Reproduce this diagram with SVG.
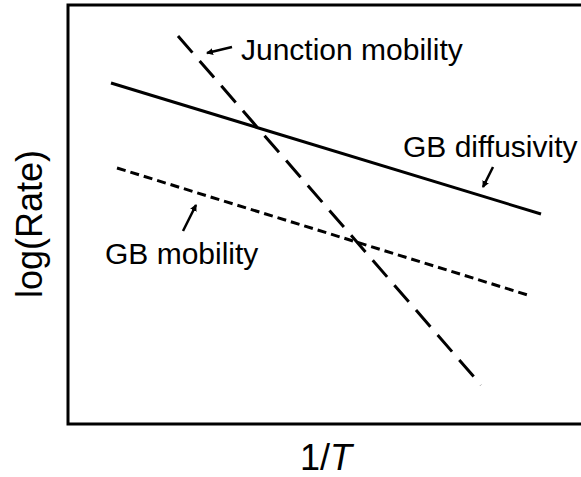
<svg xmlns="http://www.w3.org/2000/svg" width="581" height="477" viewBox="0 0 581 477">
<defs>
<marker id="ah" markerWidth="8" markerHeight="8" refX="6" refY="4" orient="auto" markerUnits="userSpaceOnUse">
<path d="M0,0.5 L7,4 L0,7.5 Z" fill="#000"/>
</marker>
</defs>
<style>
.lbl{font-family:"Liberation Sans",Arial,sans-serif;font-size:30px;fill:#000}
.ax{font-family:"Liberation Sans",Arial,sans-serif;font-size:36px;fill:#000}
.ln{fill:none;stroke:#000;stroke-width:3}
.arr{fill:none;stroke:#000;stroke-width:2.5;marker-end:url(#ah)}
</style>
<rect width="581" height="477" fill="#fff"/>
<g id="frame">
<path d="M583,5 H68 V424 H583" fill="none" stroke="#000" stroke-width="3"/>
</g>
<g id="axis-labels">
<text class="ax" x="300" y="470">1/<tspan font-style="italic">T</tspan></text>
<text class="ax" transform="translate(42,298) rotate(-90)">log(Rate)</text>
</g>
<g id="connectors">
<line id="gb-diffusivity-line" class="ln" x1="111" y1="83" x2="541" y2="214"/>
<line id="gb-mobility-line" class="ln" x1="117" y1="168" x2="531" y2="296" stroke-dasharray="9 5"/>
<line id="junction-line" class="ln" x1="178" y1="36" x2="481" y2="385" stroke-dasharray="22 11"/>
<line class="arr" x1="232" y1="47" x2="207" y2="53"/>
<line class="arr" x1="493" y1="167" x2="483" y2="187"/>
<line class="arr" x1="183" y1="231" x2="196" y2="205"/>
</g>
<g id="junction-mobility">
<text class="lbl" x="241" y="60">Junction mobility</text>
</g>
<g id="gb-diffusivity">
<text class="lbl" x="403" y="157">GB diffusivity</text>
</g>
<g id="gb-mobility">
<text class="lbl" x="105" y="264">GB mobility</text>
</g>
</svg>
